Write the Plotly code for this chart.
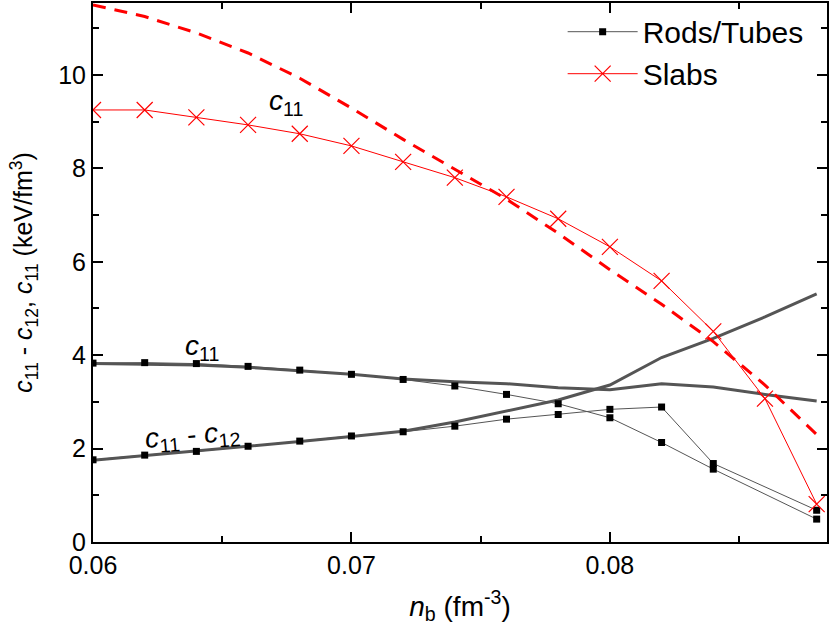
import plotly.graph_objects as go

# Rods/Tubes, points with markers (no point at 0.086)
nb_rt = [0.060, 0.062, 0.064, 0.066, 0.068, 0.070, 0.072, 0.074, 0.076, 0.078, 0.080, 0.082, 0.084, 0.088]
c11_rt = [3.83, 3.84, 3.82, 3.76, 3.68, 3.59, 3.48, 3.34, 3.16, 2.96, 2.66, 2.13, 1.56, 0.49]
c11m12_rt = [1.76, 1.86, 1.94, 2.05, 2.16, 2.27, 2.36, 2.48, 2.63, 2.73, 2.84, 2.89, 1.68, 0.68]

# Rods/Tubes, thick curves
nb_fit = [0.060, 0.062, 0.064, 0.066, 0.068, 0.070, 0.072, 0.074, 0.076, 0.078, 0.080, 0.082, 0.084, 0.086, 0.088]
c11_fit = [3.82, 3.81, 3.79, 3.74, 3.67, 3.59, 3.49, 3.43, 3.39, 3.30, 3.26, 3.39, 3.32, 3.16, 3.02]
c11m12_fit = [1.75, 1.85, 1.94, 2.04, 2.15, 2.26, 2.37, 2.57, 2.81, 3.04, 3.36, 3.95, 4.36, 4.82, 5.31]

# Slabs
nb_slab = [0.060, 0.062, 0.064, 0.066, 0.068, 0.070, 0.072, 0.074, 0.076, 0.078, 0.080, 0.082, 0.084, 0.086, 0.088]
c11_slab = [9.25, 9.25, 9.09, 8.93, 8.74, 8.48, 8.14, 7.80, 7.39, 6.92, 6.32, 5.59, 4.51, 3.07, 0.81]
c11_slab_fit = [11.5, 11.25, 10.9, 10.47, 9.93, 9.29, 8.62, 7.98, 7.34, 6.61, 5.83, 5.09, 4.29, 3.36, 2.3]

GRAY = "#555555"
RED = "#ff0000"
FONT = "Liberation Sans, Arial, sans-serif"

fig = go.Figure()

# thick gray curves
fig.add_trace(go.Scatter(x=nb_fit, y=c11_fit, mode="lines",
                         line=dict(color=GRAY, width=3), showlegend=False))
fig.add_trace(go.Scatter(x=nb_fit, y=c11m12_fit, mode="lines",
                         line=dict(color=GRAY, width=3), showlegend=False))
# thin gray with squares
fig.add_trace(go.Scatter(x=nb_rt, y=c11_rt, mode="lines+markers", name="Rods/Tubes",
                         line=dict(color=GRAY, width=1),
                         marker=dict(symbol="square", size=7, color="black")))
fig.add_trace(go.Scatter(x=nb_rt, y=c11m12_rt, mode="lines+markers", showlegend=False,
                         line=dict(color=GRAY, width=1),
                         marker=dict(symbol="square", size=7, color="black")))
# slabs
fig.add_trace(go.Scatter(x=nb_slab, y=c11_slab_fit, mode="lines", showlegend=False,
                         line=dict(color=RED, width=3, dash="13px,9px")))
fig.add_trace(go.Scatter(x=nb_slab, y=c11_slab, mode="lines+markers", name="Slabs",
                         line=dict(color=RED, width=1),
                         marker=dict(symbol="x-thin", size=16, color=RED,
                                     line=dict(color=RED, width=1.2))))

ann_font = dict(family=FONT, size=28, color="black")
fig.add_annotation(x=0.06748, y=9.40, text="<i>c</i><sub>11</sub>", showarrow=False, font=ann_font)
fig.add_annotation(x=0.06423, y=4.17, text="<i>c</i><sub>11</sub>", showarrow=False, font=ann_font)
fig.add_annotation(x=0.06385, y=2.26, text="<i>c</i><sub>11</sub> - <i>c</i><sub>12</sub>",
                   showarrow=False, font=ann_font, textangle=-5)

axis_common = dict(showline=True, linecolor="black", linewidth=2, mirror="ticks",
                   ticks="inside", ticklen=10, tickwidth=2, tickcolor="black",
                   showgrid=False, zeroline=False, automargin=False,
                   tickfont=dict(family=FONT, size=25, color="black"))

fig.update_xaxes(range=[0.06, 0.0884], tickvals=[0.06, 0.07, 0.08], ticktext=["0.06", "0.07", "0.08"],
                 minor=dict(ticks="inside", ticklen=6, tickwidth=2, tickcolor="black", dtick=0.005,
                            tick0=0.06, showgrid=False),
                 title=dict(text="<i>n</i><sub>b</sub> (fm<sup>-3</sup>)",
                            font=dict(family=FONT, size=28, color="black"), standoff=18),
                 **axis_common)
fig.update_yaxes(range=[0, 11.54], tickvals=[0, 2, 4, 6, 8, 10],
                 minor=dict(ticks="inside", ticklen=6, tickwidth=2, tickcolor="black", dtick=1,
                            showgrid=False),
                 title=dict(text="<i>c</i><sub>11</sub> - <i>c</i><sub>12</sub>, <i>c</i><sub>11</sub> (keV/fm<sup>3</sup>)",
                            font=dict(family=FONT, size=25, color="black"), standoff=18),
                 **axis_common)

fig.update_layout(
    width=830, height=639,
    margin=dict(l=93, r=3, t=3, b=97),
    plot_bgcolor="white", paper_bgcolor="white",
    legend=dict(x=0.975, y=0.995, xanchor="right", yanchor="top",
                font=dict(family=FONT, size=30, color="black"),
                bgcolor="rgba(0,0,0,0)", itemwidth=70, tracegroupgap=0),
)

# drop the browser's default page margin so the figure sits at the window corner
fig.write_html("out.html", config={"displayModeBar": False},
               post_script="document.body.style.margin='0px';")
